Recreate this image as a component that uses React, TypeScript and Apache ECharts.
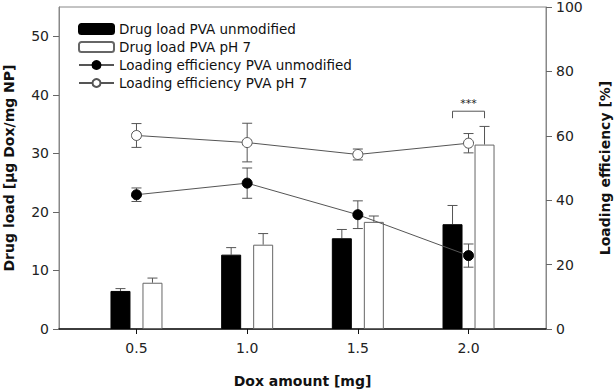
import React, { useEffect, useRef } from "react";
import * as echarts from "echarts";

const doxAmounts = [0.5, 1.0, 1.5, 2.0];
const xTickValues = [0.5, 1.0, 1.5, 2.0];
const leftTickValues = [0, 10, 20, 30, 40, 50];

const loadUnmod = [6.5, 12.7, 15.5, 17.9];
const loadUnmodErr = [0.4, 1.2, 1.5, 3.2];
const loadPH7 = [7.9, 14.4, 18.3, 31.5];
const loadPH7Err = [0.8, 1.9, 1.0, 3.1];

const effUnmod = [41.7, 45.3, 35.5, 22.8];
const effUnmodErr = [2.1, 4.7, 4.3, 3.6];
const effPH7 = [60.1, 57.9, 54.2, 57.7];
const effPH7Err = [3.7, 6.0, 1.7, 3.0];

const sigPosition = [2.0];
const sigLevel = [37.2];
const sigLabel = ["***"];

const FONT = "DejaVu Sans, sans-serif";
const LINE = "#555";

function pairs(xs: number[], ys: number[], es?: number[]) {
  return xs.map((x, i) => (es ? [x, ys[i], es[i]] : [x, ys[i]]));
}

function errorSeries(data: number[][], yAxisIndex: number, offset: number, upOnly: boolean, z: number) {
  return {
    type: "custom",
    yAxisIndex,
    z,
    silent: true,
    data,
    encode: { x: 0, y: 1 },
    renderItem: (params: any, api: any) => {
      const x = api.value(0);
      const y = api.value(1);
      const e = api.value(2);
      const hi = api.coord([x, y + e]);
      const lo = api.coord([x, upOnly ? y : y - e]);
      const cx = hi[0] + offset;
      const cap = 5;
      const children: any[] = [
        { type: "line", shape: { x1: cx, y1: hi[1], x2: cx, y2: lo[1] }, style: { stroke: LINE, lineWidth: 1 } },
        { type: "line", shape: { x1: cx - cap, y1: hi[1], x2: cx + cap, y2: hi[1] }, style: { stroke: LINE, lineWidth: 1 } },
      ];
      if (!upOnly) {
        children.push({ type: "line", shape: { x1: cx - cap, y1: lo[1], x2: cx + cap, y2: lo[1] }, style: { stroke: LINE, lineWidth: 1 } });
      }
      return { type: "group", children };
    },
  };
}

export default function App() {
  const ref = useRef<HTMLDivElement>(null);
  useEffect(() => {
    document.body.style.margin = "0";
    const chart = echarts.init(ref.current!, null, { renderer: "svg" });
    const option: any = {
      animation: false,
      textStyle: { fontFamily: FONT },
      grid: {
        left: 59,
        right: 68,
        top: 7,
        bottom: 62,
        containLabel: false,
        outerBoundsMode: "none",
        show: true,
        borderColor: "#888",
        borderWidth: 1,
      },
      legend: {
        left: 73,
        top: 17,
        orient: "vertical",
        itemWidth: 35,
        itemHeight: 10,
        itemGap: 4,
        textStyle: { fontFamily: FONT, fontSize: 13.5, lineHeight: 14, color: "#111" },
        data: [
          "Drug load PVA unmodified",
          "Drug load PVA pH 7",
          "Loading efficiency PVA unmodified",
          "Loading efficiency PVA pH 7",
        ],
      },
      xAxis: {
        type: "value",
        min: 0.15,
        max: 2.35,
        name: "Dox amount [mg]",
        nameLocation: "middle",
        nameGap: 45,
        nameTextStyle: { fontFamily: FONT, fontSize: 14, fontWeight: "bold", color: "#111", lineHeight: 14 },
        splitLine: { show: false },
        axisLine: { lineStyle: { color: "#111", width: 1.5 } },
        axisTick: { customValues: xTickValues, length: 5, lineStyle: { color: "#111" } },
        axisLabel: {
          customValues: xTickValues,
          margin: 12,
          fontSize: 14,
          color: "#222",
          formatter: (v: number) => v.toFixed(1),
        },
      },
      yAxis: [
        {
          type: "value",
          min: 0,
          max: 55,
          position: "left",
          name: "Drug load [µg Dox/mg NP]",
          nameLocation: "middle",
          nameRotate: 90,
          nameGap: 43,
          nameTextStyle: { fontFamily: FONT, fontSize: 14, fontWeight: "bold", color: "#111" },
          splitLine: { show: false },
          axisLine: { show: true, lineStyle: { color: "#888" } },
          axisTick: { show: true, customValues: leftTickValues, length: 6, lineStyle: { color: "#666" } },
          axisLabel: { customValues: leftTickValues, fontSize: 14, lineHeight: 12, color: "#222", margin: 10 },
        },
        {
          type: "value",
          min: 0,
          max: 100,
          interval: 20,
          position: "right",
          name: "Loading efficiency [%]",
          nameLocation: "middle",
          nameRotate: 90,
          nameGap: 52,
          nameTextStyle: { fontFamily: FONT, fontSize: 14, fontWeight: "bold", color: "#111" },
          splitLine: { show: false },
          axisLine: { show: true, lineStyle: { color: "#888" } },
          axisTick: { show: true, length: 6, lineStyle: { color: "#666" } },
          axisLabel: { fontSize: 14, lineHeight: 12, color: "#222", margin: 10 },
        },
      ],
      series: [
        {
          name: "Drug load PVA unmodified",
          type: "bar",
          yAxisIndex: 0,
          barWidth: 20,
          barGap: "60%",
          data: pairs(doxAmounts, loadUnmod),
          itemStyle: { color: "#000", borderColor: "#000", borderWidth: 1 },
          z: 2,
        },
        {
          name: "Drug load PVA pH 7",
          type: "bar",
          yAxisIndex: 0,
          barWidth: 20,
          barGap: "60%",
          data: pairs(doxAmounts, loadPH7),
          itemStyle: { color: "#fff", borderColor: "#666", borderWidth: 1 },
          z: 2,
        },
        errorSeries(pairs(doxAmounts, loadUnmod, loadUnmodErr), 0, -16, true, 1),
        errorSeries(pairs(doxAmounts, loadPH7, loadPH7Err), 0, 16, true, 1),
        {
          name: "Loading efficiency PVA unmodified",
          type: "line",
          yAxisIndex: 1,
          data: pairs(doxAmounts, effUnmod),
          symbol: "circle",
          symbolSize: 10,
          lineStyle: { color: LINE, width: 1 },
          itemStyle: { color: "#000", borderColor: "#000", borderWidth: 1 },
          z: 5,
        },
        {
          name: "Loading efficiency PVA pH 7",
          type: "line",
          yAxisIndex: 1,
          data: pairs(doxAmounts, effPH7),
          symbol: "circle",
          symbolSize: 10,
          lineStyle: { color: LINE, width: 1 },
          itemStyle: { color: "#fff", borderColor: LINE, borderWidth: 1 },
          z: 5,
        },
        errorSeries(pairs(doxAmounts, effUnmod, effUnmodErr), 1, 0, false, 4),
        errorSeries(pairs(doxAmounts, effPH7, effPH7Err), 1, 0, false, 4),
        {
          type: "custom",
          yAxisIndex: 0,
          silent: true,
          z: 6,
          data: sigPosition.map((x, i) => [x, sigLevel[i]]),
          encode: { x: 0, y: 1 },
          renderItem: (params: any, api: any) => {
            const p = api.coord([api.value(0), api.value(1)]);
            const l = p[0] - 16;
            const r = p[0] + 16;
            return {
              type: "group",
              children: [
                {
                  type: "polyline",
                  shape: { points: [[l, p[1] + 7], [l, p[1]], [r, p[1]], [r, p[1] + 7]] },
                  style: { stroke: LINE, lineWidth: 1, fill: "none" },
                },
                {
                  type: "text",
                  x: p[0],
                  y: p[1] - 2,
                  style: {
                    text: sigLabel[params.dataIndex],
                    fontSize: 11,
                    fontFamily: FONT,
                    fill: "#222",
                    align: "center",
                    verticalAlign: "bottom",
                  },
                },
              ],
            };
          },
        },
      ],
    };
    chart.setOption(option);
    return () => chart.dispose();
  }, []);
  return <div ref={ref} style={{ position: "absolute", left: 0, top: 0, width: 614, height: 391 }} />;
}
